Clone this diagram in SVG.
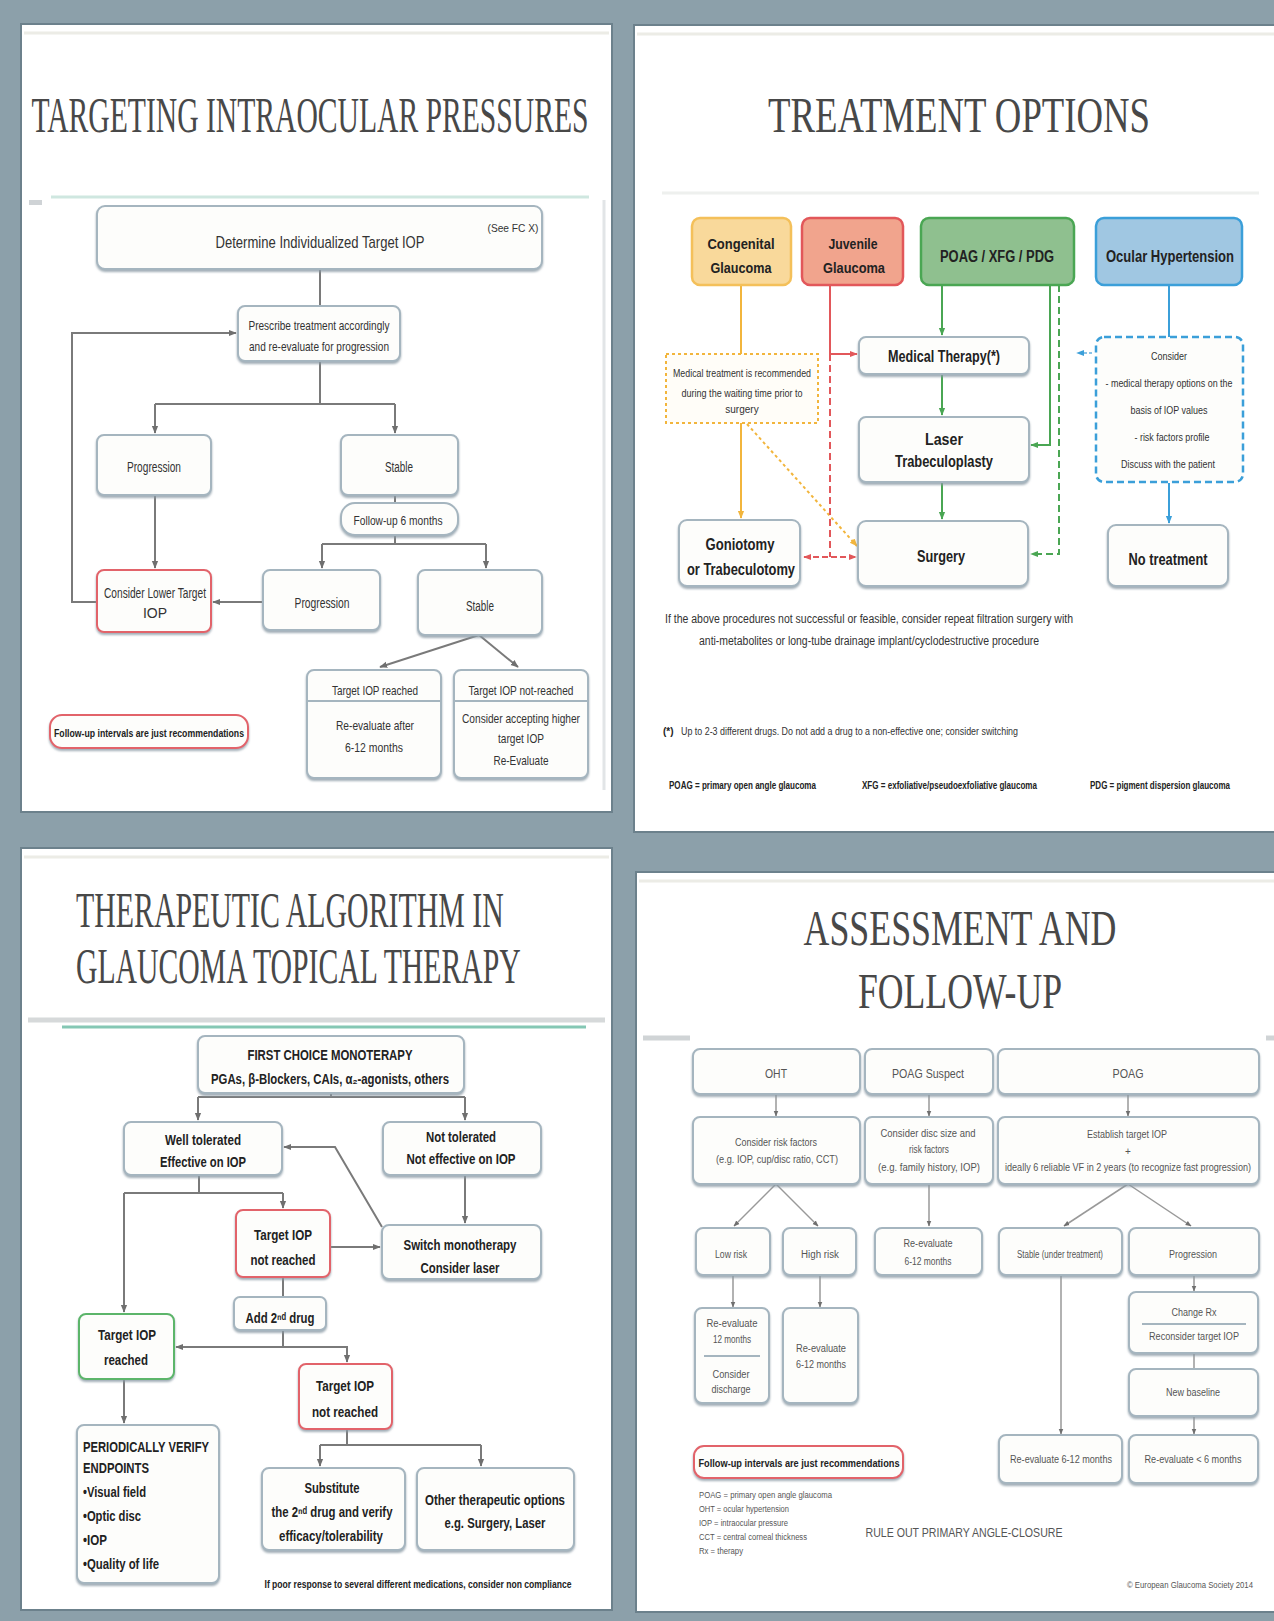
<svg xmlns="http://www.w3.org/2000/svg" width="1274" height="1621" viewBox="0 0 1274 1621">
<defs>
<style>
.bg{fill:#8ca0aa}
.panel{fill:#ffffff;stroke:#6c818c;stroke-width:2}
.title{font-family:"Liberation Serif",serif;fill:#484848;font-size:50px}
.t{font-family:"Liberation Sans Narrow","Liberation Sans","DejaVu Sans",Arial,sans-serif;fill:#333}
.b{font-weight:700;fill:#222}
.l{fill:#555}
.box{fill:#fdfdfb;stroke:#a5b5bf;stroke-width:2;filter:url(#sh)}
.red{stroke:#e2646b}
.grn{stroke:#5cb56a}
.ln{fill:none;stroke:#7a7a7a;stroke-width:2}
.ln4{fill:none;stroke:#999;stroke-width:1.5}
.sep{fill:none;stroke:#cfe7e0;stroke-width:3}
</style>
<filter id="sh" x="-10%" y="-10%" width="120%" height="130%"><feDropShadow dx="0" dy="2" stdDeviation="0.8" flood-color="#8a9aa5" flood-opacity="0.8"/></filter>
<marker id="ag" viewBox="0 0 10 10" refX="9" refY="5" markerWidth="4" markerHeight="4" orient="auto-start-reverse"><path d="M0,1 L10,5 L0,9 z" fill="#6f6f6f"/></marker>
<marker id="ar" viewBox="0 0 10 10" refX="9" refY="5" markerWidth="4" markerHeight="4" orient="auto-start-reverse"><path d="M0,1 L10,5 L0,9 z" fill="#e2575a"/></marker>
<marker id="agr" viewBox="0 0 10 10" refX="9" refY="5" markerWidth="4" markerHeight="4" orient="auto-start-reverse"><path d="M0,1 L10,5 L0,9 z" fill="#4aa653"/></marker>
<marker id="ao" viewBox="0 0 10 10" refX="9" refY="5" markerWidth="4" markerHeight="4" orient="auto-start-reverse"><path d="M0,1 L10,5 L0,9 z" fill="#f2b53c"/></marker>
<marker id="ab" viewBox="0 0 10 10" refX="9" refY="5" markerWidth="4" markerHeight="4" orient="auto-start-reverse"><path d="M0,1 L10,5 L0,9 z" fill="#3b9fd9"/></marker>
</defs>

<rect class="bg" x="0" y="0" width="1274" height="1621"/>

<!-- Panels -->
<g id="panel1">
<rect class="panel" x="21" y="24" width="591" height="788"/>
<line x1="24" y1="33" x2="609" y2="33" stroke="#ececE6" stroke-width="3"/>
<text class="title" text-anchor="middle" transform="translate(310 132) scale(0.582 1)" textLength="957" lengthAdjust="spacingAndGlyphs">TARGETING  INTRAOCULAR PRESSURES</text>
<line class="sep" x1="51" y1="197" x2="589" y2="197"/>
<rect x="29" y="200" width="13" height="5" fill="#cfd3d6"/>
<line x1="604" y1="200" x2="604" y2="790" stroke="#e2e5e7" stroke-width="3"/>
</g>
<g id="panel2">
<rect class="panel" x="634" y="25" width="646" height="807"/>
<line x1="637" y1="34" x2="1274" y2="34" stroke="#ececE6" stroke-width="3"/>
<text class="title" text-anchor="middle" transform="translate(959 132) scale(0.726 1)" textLength="526" lengthAdjust="spacingAndGlyphs">TREATMENT OPTIONS</text>
<line x1="662" y1="193" x2="1259" y2="193" stroke="#eef0ee" stroke-width="3"/>
</g>
<g id="panel3">
<rect class="panel" x="21" y="848" width="591" height="762"/>
<line x1="24" y1="857" x2="609" y2="857" stroke="#ececE6" stroke-width="3"/>
<text class="title" transform="translate(76 927) scale(0.595 1)" textLength="719" lengthAdjust="spacingAndGlyphs">THERAPEUTIC ALGORITHM IN</text>
<text class="title" transform="translate(76 983) scale(0.589 1)" textLength="755" lengthAdjust="spacingAndGlyphs">GLAUCOMA TOPICAL THERAPY</text>
<line x1="28" y1="1020" x2="605" y2="1020" stroke="#d6d9da" stroke-width="5"/>
<line x1="62" y1="1027" x2="586" y2="1027" stroke="#84c7b4" stroke-width="3"/>
</g>
<g id="panel4">
<rect class="panel" x="636" y="872" width="644" height="740"/>
<line x1="639" y1="881" x2="1274" y2="881" stroke="#ececE6" stroke-width="3"/>
<text class="title" text-anchor="middle" transform="translate(960 945) scale(0.711 1)" textLength="440" lengthAdjust="spacingAndGlyphs">ASSESSMENT AND</text>
<text class="title" text-anchor="middle" transform="translate(960 1008) scale(0.706 1)" textLength="289" lengthAdjust="spacingAndGlyphs">FOLLOW-UP</text>
<line x1="643" y1="1038" x2="690" y2="1038" stroke="#d0d4d6" stroke-width="5"/>
<line x1="1266" y1="1038" x2="1274" y2="1038" stroke="#d0d4d6" stroke-width="5"/>
</g>

<!-- Connectors -->
<g id="connectors">
<!-- panel 1 -->
<path class="ln" d="M320 269 V306"/>
<path class="ln" d="M320 361 V404 M155 404 H395"/>
<path class="ln" d="M155 404 V433" marker-end="url(#ag)"/>
<path class="ln" d="M395 404 V433" marker-end="url(#ag)"/>
<path class="ln" d="M155 495 V568" marker-end="url(#ag)"/>
<path class="ln" d="M395 495 V503"/>
<path class="ln" d="M395 535 V544 M322 544 H486"/>
<path class="ln" d="M322 544 V568" marker-end="url(#ag)"/>
<path class="ln" d="M486 544 V568" marker-end="url(#ag)"/>
<path class="ln" d="M263 602 H213" stroke-width="3" marker-end="url(#ag)"/>
<path class="ln" d="M97 602 H72 V333 H236" marker-end="url(#ag)"/>
<path class="ln" d="M479 635 L380 667" marker-end="url(#ag)"/>
<path class="ln" d="M479 635 L518 667" marker-end="url(#ag)"/>
<!-- panel 2 -->
<path fill="none" stroke="#f2b53c" stroke-width="2" d="M741 285 V354"/>
<path fill="none" stroke="#f2b53c" stroke-width="2" d="M741 423 V518" marker-end="url(#ao)"/>
<path fill="none" stroke="#f2b53c" stroke-width="2" stroke-dasharray="3 3" d="M747 424 L857 546" marker-end="url(#ao)"/>
<path fill="none" stroke="#e2575a" stroke-width="2" d="M830 285 V354 H857" marker-end="url(#ar)"/>
<path fill="none" stroke="#e2575a" stroke-width="2" stroke-dasharray="7 4" d="M830 354 V557"/>
<path fill="none" stroke="#e2575a" stroke-width="2" stroke-dasharray="6 3" d="M804 557 H856" marker-start="url(#ar)" marker-end="url(#ar)"/>
<path fill="none" stroke="#4aa653" stroke-width="2" d="M942 285 V335" marker-end="url(#agr)"/>
<path fill="none" stroke="#4aa653" stroke-width="2" d="M942 374 V415" marker-end="url(#agr)"/>
<path fill="none" stroke="#4aa653" stroke-width="2" d="M942 482 V519" marker-end="url(#agr)"/>
<path fill="none" stroke="#4aa653" stroke-width="2" d="M1050 285 V445 H1031" marker-end="url(#agr)"/>
<path fill="none" stroke="#4aa653" stroke-width="2" stroke-dasharray="7 4" d="M1059 285 V554 H1031" marker-end="url(#agr)"/>
<path fill="none" stroke="#3b9fd9" stroke-width="2" d="M1169 285 V337"/>
<path fill="none" stroke="#3b9fd9" stroke-width="2" d="M1169 483 V523" marker-end="url(#ab)"/>
<path fill="none" stroke="#8cc3e6" stroke-width="2" stroke-dasharray="3 2" d="M1092 353 H1077" marker-end="url(#ab)"/>
<!-- panel 3 -->
<path class="ln" d="M331 1093 V1097"/>
<path class="ln" d="M198 1097 H465" stroke-width="3.5" stroke="#8a8a8a"/>
<path class="ln" d="M198 1097 V1120" marker-end="url(#ag)"/>
<path class="ln" d="M465 1097 V1120" marker-end="url(#ag)"/>
<path class="ln" d="M199 1175 V1193 M124 1193 H283"/>
<path class="ln" d="M283 1193 V1208" marker-end="url(#ag)"/>
<path class="ln" d="M124 1193 V1312" marker-end="url(#ag)"/>
<path class="ln" d="M382 1227 L335 1147 H284" marker-end="url(#ag)"/>
<path class="ln" d="M330 1247 H380" marker-end="url(#ag)"/>
<path class="ln" d="M465 1175 V1223" marker-end="url(#ag)"/>
<path class="ln" d="M283 1277 V1297"/>
<path class="ln" d="M283 1330 V1347 H176" marker-end="url(#ag)"/>
<path class="ln" d="M283 1347 H347 V1362" marker-end="url(#ag)"/>
<path class="ln" d="M124 1379 V1423" marker-end="url(#ag)"/>
<path class="ln" d="M347 1429 V1445 M320 1445 H481"/>
<path class="ln" d="M320 1445 V1466" marker-end="url(#ag)"/>
<path class="ln" d="M481 1445 V1466" marker-end="url(#ag)"/>
<!-- panel 4 -->
<path class="ln4" d="M776 1094 V1116" marker-end="url(#ag)"/>
<path class="ln4" d="M929 1094 V1116" marker-end="url(#ag)"/>
<path class="ln4" d="M1128 1094 V1116" marker-end="url(#ag)"/>
<path class="ln4" d="M776 1184 L734 1226" marker-end="url(#ag)"/>
<path class="ln4" d="M776 1184 L818 1226" marker-end="url(#ag)"/>
<path class="ln4" d="M929 1184 V1226" marker-end="url(#ag)"/>
<path class="ln4" d="M1128 1184 L1064 1226" marker-end="url(#ag)"/>
<path class="ln4" d="M1128 1184 L1191 1226" marker-end="url(#ag)"/>
<path class="ln4" d="M733 1275 V1307" marker-end="url(#ag)"/>
<path class="ln4" d="M820 1275 V1307" marker-end="url(#ag)"/>
<path class="ln4" d="M1061 1275 V1434" marker-end="url(#ag)"/>
<path class="ln4" d="M1194 1275 V1291" marker-end="url(#ag)"/>
<path class="ln4" d="M1194 1353 V1369"/>
<path class="ln4" d="M1194 1416 V1434" marker-end="url(#ag)"/>
</g>

<!-- Panel 1 nodes -->
<g id="p1-determine">
<rect class="box" x="97" y="206" width="445" height="63" rx="8"/>
<text class="t" x="320" y="248" font-size="17" text-anchor="middle" textLength="209" lengthAdjust="spacingAndGlyphs">Determine Individualized Target IOP</text>
<text class="t" x="513" y="232" font-size="11" text-anchor="middle" textLength="51" lengthAdjust="spacingAndGlyphs">(See FC X)</text>
</g>
<g id="p1-prescribe">
<rect class="box" x="238" y="306" width="162" height="55" rx="7"/>
<text class="t" x="319" y="330" font-size="13" text-anchor="middle" textLength="141" lengthAdjust="spacingAndGlyphs">Prescribe treatment accordingly</text>
<text class="t" x="319" y="351" font-size="13" text-anchor="middle" textLength="140" lengthAdjust="spacingAndGlyphs">and re-evaluate for progression</text>
</g>
<g id="p1-progression">
<rect class="box" x="97" y="435" width="114" height="60" rx="7"/>
<text class="t" x="154" y="472" font-size="14" text-anchor="middle" textLength="54" lengthAdjust="spacingAndGlyphs">Progression</text>
</g>
<g id="p1-stable">
<rect class="box" x="341" y="435" width="117" height="60" rx="7"/>
<text class="t" x="399" y="472" font-size="14" text-anchor="middle" textLength="28" lengthAdjust="spacingAndGlyphs">Stable</text>
</g>
<g id="p1-followup">
<rect class="box" x="341" y="503" width="117" height="32" rx="14"/>
<text class="t" x="398" y="525" font-size="13" text-anchor="middle" textLength="89" lengthAdjust="spacingAndGlyphs">Follow-up 6 months</text>
</g>
<g id="p1-lower">
<rect class="box red" x="97" y="570" width="114" height="62" rx="7"/>
<text class="t" x="155" y="598" font-size="14" text-anchor="middle" textLength="102" lengthAdjust="spacingAndGlyphs">Consider Lower Target</text>
<text class="t" x="155" y="618" font-size="14" text-anchor="middle">IOP</text>
</g>
<g id="p1-progression2">
<rect class="box" x="263" y="570" width="117" height="60" rx="7"/>
<text class="t" x="322" y="608" font-size="14" text-anchor="middle" textLength="55" lengthAdjust="spacingAndGlyphs">Progression</text>
</g>
<g id="p1-stable2">
<rect class="box" x="418" y="570" width="124" height="65" rx="7"/>
<text class="t" x="480" y="611" font-size="14" text-anchor="middle" textLength="28" lengthAdjust="spacingAndGlyphs">Stable</text>
</g>
<g id="p1-reached">
<rect class="box" x="307" y="670" width="134" height="108" rx="7"/>
<line x1="307" y1="701" x2="441" y2="701" stroke="#a5b5bf" stroke-width="2"/>
<text class="t" x="375" y="695" font-size="13" text-anchor="middle" textLength="86" lengthAdjust="spacingAndGlyphs">Target IOP reached</text>
<text class="t" x="375" y="730" font-size="13" text-anchor="middle" textLength="78" lengthAdjust="spacingAndGlyphs">Re-evaluate after</text>
<text class="t" x="374" y="752" font-size="13" text-anchor="middle" textLength="58" lengthAdjust="spacingAndGlyphs">6-12 months</text>
</g>
<g id="p1-notreached">
<rect class="box" x="454" y="670" width="134" height="108" rx="7"/>
<line x1="454" y1="701" x2="588" y2="701" stroke="#a5b5bf" stroke-width="2"/>
<text class="t" x="521" y="695" font-size="13" text-anchor="middle" textLength="105" lengthAdjust="spacingAndGlyphs">Target IOP not-reached</text>
<text class="t" x="521" y="723" font-size="13" text-anchor="middle" textLength="118" lengthAdjust="spacingAndGlyphs">Consider accepting higher</text>
<text class="t" x="521" y="743" font-size="13" text-anchor="middle" textLength="46" lengthAdjust="spacingAndGlyphs">target IOP</text>
<text class="t" x="521" y="765" font-size="13" text-anchor="middle" textLength="55" lengthAdjust="spacingAndGlyphs">Re-Evaluate</text>
</g>
<g id="p1-note">
<rect class="box red" x="50" y="715" width="198" height="33" rx="12"/>
<text class="t b" x="149" y="737" font-size="11" text-anchor="middle" textLength="190" lengthAdjust="spacingAndGlyphs">Follow-up intervals are just recommendations</text>
</g>

<!-- Panel 2 nodes -->
<g id="p2-congenital">
<rect x="692" y="218" width="99" height="67" rx="8" fill="#f9d99b" stroke="#f4c05a" stroke-width="2.5"/>
<text class="t b" x="741" y="249" font-size="15" text-anchor="middle" textLength="67" lengthAdjust="spacingAndGlyphs">Congenital</text>
<text class="t b" x="741" y="273" font-size="15" text-anchor="middle" textLength="61" lengthAdjust="spacingAndGlyphs">Glaucoma</text>
</g>
<g id="p2-juvenile">
<rect x="802" y="218" width="101" height="67" rx="8" fill="#f1a48d" stroke="#e2575a" stroke-width="2.5"/>
<text class="t b" x="853" y="249" font-size="15" text-anchor="middle" textLength="49" lengthAdjust="spacingAndGlyphs">Juvenile</text>
<text class="t b" x="854" y="273" font-size="15" text-anchor="middle" textLength="62" lengthAdjust="spacingAndGlyphs">Glaucoma</text>
</g>
<g id="p2-poag">
<rect x="921" y="218" width="153" height="67" rx="8" fill="#8fc08f" stroke="#4aa653" stroke-width="2.5"/>
<text class="t b" x="997" y="262" font-size="16" text-anchor="middle" textLength="114" lengthAdjust="spacingAndGlyphs">POAG / XFG / PDG</text>
</g>
<g id="p2-oht">
<rect x="1096" y="218" width="146" height="67" rx="8" fill="#a0c7e2" stroke="#3b9fd9" stroke-width="2.5"/>
<text class="t b" x="1170" y="262" font-size="16" text-anchor="middle" textLength="128" lengthAdjust="spacingAndGlyphs">Ocular Hypertension</text>
</g>
<g id="p2-medtreat">
<rect x="666" y="354" width="152" height="69" fill="#fffdf8" stroke="#f2b53c" stroke-width="2" stroke-dasharray="3 3"/>
<text class="t" x="742" y="377" font-size="10" text-anchor="middle" textLength="138" lengthAdjust="spacingAndGlyphs">Medical treatment is recommended</text>
<text class="t" x="742" y="397" font-size="10" text-anchor="middle" textLength="121" lengthAdjust="spacingAndGlyphs">during the waiting time prior to</text>
<text class="t" x="742" y="413" font-size="10" text-anchor="middle">surgery</text>
</g>
<g id="p2-medical">
<rect class="box" x="859" y="337" width="170" height="37" rx="7"/>
<text class="t b" x="944" y="362" font-size="16" text-anchor="middle" textLength="112" lengthAdjust="spacingAndGlyphs">Medical Therapy(*)</text>
</g>
<g id="p2-laser">
<rect class="box" x="859" y="417" width="170" height="65" rx="7"/>
<text class="t b" x="944" y="445" font-size="16" text-anchor="middle" textLength="38" lengthAdjust="spacingAndGlyphs">Laser</text>
<text class="t b" x="944" y="467" font-size="16" text-anchor="middle" textLength="98" lengthAdjust="spacingAndGlyphs">Trabeculoplasty</text>
</g>
<g id="p2-consider">
<rect x="1096" y="337" width="147" height="145" rx="8" fill="#fdfdfb" stroke="#3b9fd9" stroke-width="2.5" stroke-dasharray="7 4"/>
<text class="t" x="1169" y="360" font-size="11" text-anchor="middle" textLength="36" lengthAdjust="spacingAndGlyphs">Consider</text>
<text class="t" x="1169" y="387" font-size="11" text-anchor="middle" textLength="127" lengthAdjust="spacingAndGlyphs">- medical therapy options on the</text>
<text class="t" x="1169" y="414" font-size="11" text-anchor="middle" textLength="77" lengthAdjust="spacingAndGlyphs">basis of IOP values</text>
<text class="t" x="1172" y="441" font-size="11" text-anchor="middle" textLength="75" lengthAdjust="spacingAndGlyphs">- risk factors profile</text>
<text class="t" x="1168" y="468" font-size="11" text-anchor="middle" textLength="94" lengthAdjust="spacingAndGlyphs">Discuss with the patient</text>
</g>
<g id="p2-goniotomy">
<rect class="box" x="679" y="520" width="121" height="66" rx="8"/>
<text class="t b" x="740" y="550" font-size="16" text-anchor="middle" textLength="69" lengthAdjust="spacingAndGlyphs">Goniotomy</text>
<text class="t b" x="741" y="575" font-size="16" text-anchor="middle" textLength="108" lengthAdjust="spacingAndGlyphs">or Trabeculotomy</text>
</g>
<g id="p2-surgery">
<rect class="box" x="858" y="521" width="170" height="65" rx="8"/>
<text class="t b" x="941" y="562" font-size="16" text-anchor="middle" textLength="48" lengthAdjust="spacingAndGlyphs">Surgery</text>
</g>
<g id="p2-notreat">
<rect class="box" x="1108" y="525" width="120" height="61" rx="8"/>
<text class="t b" x="1168" y="565" font-size="16" text-anchor="middle" textLength="79" lengthAdjust="spacingAndGlyphs">No treatment</text>
</g>
<g id="p2-notes">
<text class="t" x="869" y="623" font-size="12" text-anchor="middle" textLength="408" lengthAdjust="spacingAndGlyphs">If the above procedures not successful or feasible, consider repeat filtration surgery with</text>
<text class="t" x="869" y="645" font-size="12" text-anchor="middle" textLength="340" lengthAdjust="spacingAndGlyphs">anti-metabolites or long-tube drainage implant/cyclodestructive procedure</text>
<text class="t b" x="663" y="735" font-size="10">(*)</text>
<text class="t" x="681" y="735" font-size="11" textLength="337" lengthAdjust="spacingAndGlyphs">Up to 2-3 different drugs. Do not add a drug to a non-effective one; consider switching</text>
<text class="t b" x="669" y="789" font-size="10" textLength="147" lengthAdjust="spacingAndGlyphs">POAG = primary open angle glaucoma</text>
<text class="t b" x="862" y="789" font-size="10" textLength="175" lengthAdjust="spacingAndGlyphs">XFG = exfoliative/pseudoexfoliative glaucoma</text>
<text class="t b" x="1090" y="789" font-size="10" textLength="140" lengthAdjust="spacingAndGlyphs">PDG = pigment dispersion glaucoma</text>
</g>

<!-- Panel 3 nodes -->
<g id="p3-first">
<rect class="box" x="198" y="1036" width="266" height="57" rx="7"/>
<text class="t b" x="330" y="1060" font-size="14" text-anchor="middle" textLength="165" lengthAdjust="spacingAndGlyphs">FIRST CHOICE MONOTERAPY</text>
<text class="t b" x="330" y="1084" font-size="14" text-anchor="middle" textLength="238" lengthAdjust="spacingAndGlyphs">PGAs, β-Blockers, CAIs, α₂-agonists, others</text>
</g>
<g id="p3-well">
<rect class="box" x="124" y="1122" width="158" height="53" rx="7"/>
<text class="t b" x="203" y="1145" font-size="15" text-anchor="middle" textLength="76" lengthAdjust="spacingAndGlyphs">Well tolerated</text>
<text class="t b" x="203" y="1167" font-size="15" text-anchor="middle" textLength="86" lengthAdjust="spacingAndGlyphs">Effective on IOP</text>
</g>
<g id="p3-not">
<rect class="box" x="383" y="1122" width="158" height="53" rx="7"/>
<text class="t b" x="461" y="1142" font-size="15" text-anchor="middle" textLength="70" lengthAdjust="spacingAndGlyphs">Not tolerated</text>
<text class="t b" x="461" y="1164" font-size="15" text-anchor="middle" textLength="109" lengthAdjust="spacingAndGlyphs">Not effective on IOP</text>
</g>
<g id="p3-tnr1">
<rect class="box red" x="236" y="1210" width="94" height="67" rx="7"/>
<text class="t b" x="283" y="1240" font-size="15" text-anchor="middle" textLength="58" lengthAdjust="spacingAndGlyphs">Target IOP</text>
<text class="t b" x="283" y="1265" font-size="15" text-anchor="middle" textLength="65" lengthAdjust="spacingAndGlyphs">not reached</text>
</g>
<g id="p3-switch">
<rect class="box" x="382" y="1225" width="159" height="54" rx="7"/>
<text class="t b" x="460" y="1250" font-size="15" text-anchor="middle" textLength="113" lengthAdjust="spacingAndGlyphs">Switch monotherapy</text>
<text class="t b" x="460" y="1273" font-size="15" text-anchor="middle" textLength="79" lengthAdjust="spacingAndGlyphs">Consider laser</text>
</g>
<g id="p3-add">
<rect class="box" x="234" y="1297" width="92" height="33" rx="6"/>
<text class="t b" x="280" y="1323" font-size="15" text-anchor="middle" textLength="69" lengthAdjust="spacingAndGlyphs">Add 2ⁿᵈ drug</text>
</g>
<g id="p3-reached">
<rect class="box grn" x="79" y="1314" width="95" height="65" rx="7"/>
<text class="t b" x="127" y="1340" font-size="15" text-anchor="middle" textLength="58" lengthAdjust="spacingAndGlyphs">Target IOP</text>
<text class="t b" x="126" y="1365" font-size="15" text-anchor="middle" textLength="44" lengthAdjust="spacingAndGlyphs">reached</text>
</g>
<g id="p3-tnr2">
<rect class="box red" x="299" y="1364" width="93" height="65" rx="7"/>
<text class="t b" x="345" y="1391" font-size="15" text-anchor="middle" textLength="58" lengthAdjust="spacingAndGlyphs">Target IOP</text>
<text class="t b" x="345" y="1417" font-size="15" text-anchor="middle" textLength="66" lengthAdjust="spacingAndGlyphs">not reached</text>
</g>
<g id="p3-periodic">
<rect class="box" x="77" y="1425" width="142" height="158" rx="7"/>
<text class="t b" x="83" y="1452" font-size="15" textLength="126" lengthAdjust="spacingAndGlyphs">PERIODICALLY VERIFY</text>
<text class="t b" x="83" y="1473" font-size="15" textLength="66" lengthAdjust="spacingAndGlyphs">ENDPOINTS</text>
<text class="t b" x="83" y="1497" font-size="15" textLength="63" lengthAdjust="spacingAndGlyphs">•Visual field</text>
<text class="t b" x="83" y="1521" font-size="15" textLength="58" lengthAdjust="spacingAndGlyphs">•Optic disc</text>
<text class="t b" x="83" y="1545" font-size="15" textLength="24" lengthAdjust="spacingAndGlyphs">•IOP</text>
<text class="t b" x="83" y="1569" font-size="15" textLength="76" lengthAdjust="spacingAndGlyphs">•Quality of life</text>
</g>
<g id="p3-substitute">
<rect class="box" x="262" y="1468" width="143" height="82" rx="7"/>
<text class="t b" x="332" y="1493" font-size="15" text-anchor="middle" textLength="55" lengthAdjust="spacingAndGlyphs">Substitute</text>
<text class="t b" x="332" y="1517" font-size="15" text-anchor="middle" textLength="121" lengthAdjust="spacingAndGlyphs">the 2ⁿᵈ drug and verify</text>
<text class="t b" x="331" y="1541" font-size="15" text-anchor="middle" textLength="104" lengthAdjust="spacingAndGlyphs">efficacy/tolerability</text>
</g>
<g id="p3-other">
<rect class="box" x="417" y="1468" width="157" height="82" rx="7"/>
<text class="t b" x="495" y="1505" font-size="15" text-anchor="middle" textLength="140" lengthAdjust="spacingAndGlyphs">Other therapeutic options</text>
<text class="t b" x="495" y="1528" font-size="15" text-anchor="middle" textLength="101" lengthAdjust="spacingAndGlyphs">e.g. Surgery, Laser</text>
</g>
<g id="p3-note">
<text class="t b" x="418" y="1588" font-size="11" text-anchor="middle" textLength="307" lengthAdjust="spacingAndGlyphs">If poor response to several different medications, consider non compliance</text>
</g>

<!-- Panel 4 nodes -->
<g id="p4-oht">
<rect class="box" x="693" y="1049" width="167" height="45" rx="7"/>
<text class="t l" x="776" y="1078" font-size="13" text-anchor="middle" textLength="22" lengthAdjust="spacingAndGlyphs">OHT</text>
</g>
<g id="p4-suspect">
<rect class="box" x="865" y="1049" width="128" height="45" rx="7"/>
<text class="t l" x="928" y="1078" font-size="13" text-anchor="middle" textLength="72" lengthAdjust="spacingAndGlyphs">POAG Suspect</text>
</g>
<g id="p4-poag">
<rect class="box" x="998" y="1049" width="261" height="45" rx="7"/>
<text class="t l" x="1128" y="1078" font-size="13" text-anchor="middle" textLength="31" lengthAdjust="spacingAndGlyphs">POAG</text>
</g>
<g id="p4-risk">
<rect class="box" x="693" y="1117" width="167" height="67" rx="7"/>
<text class="t l" x="776" y="1146" font-size="10" text-anchor="middle" textLength="82" lengthAdjust="spacingAndGlyphs">Consider risk factors</text>
<text class="t l" x="777" y="1163" font-size="10" text-anchor="middle" textLength="122" lengthAdjust="spacingAndGlyphs">(e.g. IOP, cup/disc ratio, CCT)</text>
</g>
<g id="p4-disc">
<rect class="box" x="865" y="1117" width="128" height="67" rx="7"/>
<text class="t l" x="928" y="1137" font-size="10" text-anchor="middle" textLength="95" lengthAdjust="spacingAndGlyphs">Consider disc size and</text>
<text class="t l" x="929" y="1153" font-size="10" text-anchor="middle" textLength="40" lengthAdjust="spacingAndGlyphs">risk factors</text>
<text class="t l" x="929" y="1171" font-size="10" text-anchor="middle" textLength="102" lengthAdjust="spacingAndGlyphs">(e.g. family history, IOP)</text>
</g>
<g id="p4-establish">
<rect class="box" x="998" y="1117" width="261" height="67" rx="7"/>
<text class="t l" x="1127" y="1138" font-size="10" text-anchor="middle" textLength="80" lengthAdjust="spacingAndGlyphs">Establish target IOP</text>
<text class="t l" x="1128" y="1155" font-size="10" text-anchor="middle">+</text>
<text class="t l" x="1128" y="1171" font-size="10" text-anchor="middle" textLength="246" lengthAdjust="spacingAndGlyphs">ideally 6 reliable VF in 2 years (to recognize fast progression)</text>
</g>
<g id="p4-low">
<rect class="box" x="696" y="1228" width="74" height="47" rx="7"/>
<text class="t l" x="731" y="1258" font-size="10" text-anchor="middle" textLength="32" lengthAdjust="spacingAndGlyphs">Low risk</text>
</g>
<g id="p4-high">
<rect class="box" x="783" y="1228" width="73" height="47" rx="7"/>
<text class="t l" x="820" y="1258" font-size="10" text-anchor="middle" textLength="38" lengthAdjust="spacingAndGlyphs">High risk</text>
</g>
<g id="p4-reeval-suspect">
<rect class="box" x="875" y="1228" width="107" height="47" rx="7"/>
<text class="t l" x="928" y="1247" font-size="10" text-anchor="middle" textLength="49" lengthAdjust="spacingAndGlyphs">Re-evaluate</text>
<text class="t l" x="928" y="1265" font-size="10" text-anchor="middle" textLength="47" lengthAdjust="spacingAndGlyphs">6-12 months</text>
</g>
<g id="p4-stable">
<rect class="box" x="999" y="1228" width="123" height="47" rx="7"/>
<text class="t l" x="1060" y="1258" font-size="10" text-anchor="middle" textLength="86" lengthAdjust="spacingAndGlyphs">Stable (under treatment)</text>
</g>
<g id="p4-progression">
<rect class="box" x="1129" y="1228" width="130" height="47" rx="7"/>
<text class="t l" x="1193" y="1258" font-size="10" text-anchor="middle" textLength="48" lengthAdjust="spacingAndGlyphs">Progression</text>
</g>
<g id="p4-lowbox">
<rect class="box" x="695" y="1308" width="74" height="95" rx="7"/>
<text class="t l" x="732" y="1327" font-size="10" text-anchor="middle" textLength="51" lengthAdjust="spacingAndGlyphs">Re-evaluate</text>
<text class="t l" x="732" y="1343" font-size="10" text-anchor="middle" textLength="38" lengthAdjust="spacingAndGlyphs">12 months</text>
<line x1="704" y1="1356" x2="760" y2="1356" stroke="#a5b5bf" stroke-width="2"/>
<text class="t l" x="731" y="1378" font-size="10" text-anchor="middle" textLength="37" lengthAdjust="spacingAndGlyphs">Consider</text>
<text class="t l" x="731" y="1393" font-size="10" text-anchor="middle" textLength="39" lengthAdjust="spacingAndGlyphs">discharge</text>
</g>
<g id="p4-highbox">
<rect class="box" x="783" y="1308" width="75" height="95" rx="7"/>
<text class="t l" x="821" y="1352" font-size="10" text-anchor="middle" textLength="50" lengthAdjust="spacingAndGlyphs">Re-evaluate</text>
<text class="t l" x="821" y="1368" font-size="10" text-anchor="middle" textLength="50" lengthAdjust="spacingAndGlyphs">6-12 months</text>
</g>
<g id="p4-change">
<rect class="box" x="1129" y="1292" width="129" height="61" rx="7"/>
<text class="t l" x="1194" y="1316" font-size="10" text-anchor="middle" textLength="45" lengthAdjust="spacingAndGlyphs">Change Rx</text>
<line x1="1142" y1="1324" x2="1246" y2="1324" stroke="#a5b5bf" stroke-width="2"/>
<text class="t l" x="1194" y="1340" font-size="10" text-anchor="middle" textLength="90" lengthAdjust="spacingAndGlyphs">Reconsider target IOP</text>
</g>
<g id="p4-baseline">
<rect class="box" x="1129" y="1369" width="129" height="47" rx="7"/>
<text class="t l" x="1193" y="1396" font-size="10" text-anchor="middle" textLength="54" lengthAdjust="spacingAndGlyphs">New baseline</text>
</g>
<g id="p4-reeval612">
<rect class="box" x="999" y="1435" width="123" height="48" rx="7"/>
<text class="t l" x="1061" y="1463" font-size="10" text-anchor="middle" textLength="102" lengthAdjust="spacingAndGlyphs">Re-evaluate 6-12 months</text>
</g>
<g id="p4-reeval6">
<rect class="box" x="1129" y="1435" width="129" height="48" rx="7"/>
<text class="t l" x="1193" y="1463" font-size="10" text-anchor="middle" textLength="97" lengthAdjust="spacingAndGlyphs">Re-evaluate &lt; 6 months</text>
</g>
<g id="p4-note">
<rect class="box red" x="694" y="1446" width="209" height="32" rx="10"/>
<text class="t b" x="799" y="1467" font-size="11" text-anchor="middle" textLength="201" lengthAdjust="spacingAndGlyphs">Follow-up intervals are just recommendations</text>
</g>
<g id="p4-legend">
<text class="t l" x="699" y="1498" font-size="8.5" textLength="133" lengthAdjust="spacingAndGlyphs">POAG = primary open angle glaucoma</text>
<text class="t l" x="699" y="1512" font-size="8.5" textLength="90" lengthAdjust="spacingAndGlyphs">OHT = ocular hypertension</text>
<text class="t l" x="699" y="1526" font-size="8.5" textLength="89" lengthAdjust="spacingAndGlyphs">IOP = intraocular pressure</text>
<text class="t l" x="699" y="1540" font-size="8.5" textLength="108" lengthAdjust="spacingAndGlyphs">CCT = central corneal thickness</text>
<text class="t l" x="699" y="1554" font-size="8.5" textLength="44" lengthAdjust="spacingAndGlyphs">Rx = therapy</text>
<text class="t l" x="964" y="1537" font-size="13" text-anchor="middle" textLength="197" lengthAdjust="spacingAndGlyphs">RULE OUT PRIMARY ANGLE-CLOSURE</text>
<text class="t l" x="1253" y="1588" font-size="9" text-anchor="end" textLength="126" lengthAdjust="spacingAndGlyphs">© European Glaucoma Society 2014</text>
</g>
</svg>
